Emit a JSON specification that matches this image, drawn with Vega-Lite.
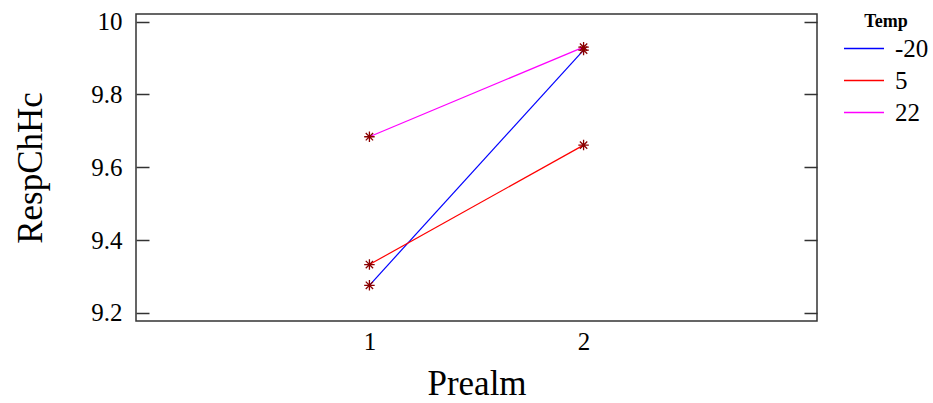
{
  "$schema": "https://vega.github.io/schema/vega-lite/v6.json",
  "width": 681,
  "height": 307,
  "autosize": {"type": "none"},
  "padding": {"left": 136, "top": 14, "right": 116, "bottom": 82},
  "background": "white",
  "config": {
    "font": "Liberation Serif",
    "view": {"stroke": "#333333", "strokeWidth": 1.5}
  },
  "data": {
    "values": [
      {"Prealm": 1, "RespChHc": 9.276, "Temp": "-20"},
      {"Prealm": 2, "RespChHc": 9.922, "Temp": "-20"},
      {"Prealm": 1, "RespChHc": 9.333, "Temp": "5"},
      {"Prealm": 2, "RespChHc": 9.661, "Temp": "5"},
      {"Prealm": 1, "RespChHc": 9.684, "Temp": "22"},
      {"Prealm": 2, "RespChHc": 9.93, "Temp": "22"}
    ]
  },
  "layer": [
    {
      "mark": {"type": "line", "strokeWidth": 1.2},
      "encoding": {
        "x": {
          "field": "Prealm", "type": "quantitative",
          "scale": {"domain": [-0.09, 3.09], "nice": false, "zero": false},
          "axis": {"values": [1, 2], "format": "d", "ticks": false, "domain": false, "grid": false,
                   "labelFont": "Liberation Serif", "titleFont": "Liberation Serif",
                   "labelFontSize": 25, "labelColor": "black", "labelPadding": 8,
                   "title": "Prealm", "titleFontSize": 35, "titleFontWeight": "normal",
                   "titleColor": "black", "titlePadding": 12}
        },
        "y": {
          "field": "RespChHc", "type": "quantitative",
          "scale": {"domain": [9.178, 10.021], "nice": false, "zero": false},
          "axis": {"values": [9.2, 9.4, 9.6, 9.8, 10], "format": "~g", "tickSize": -13,
                   "tickColor": "#333333", "tickWidth": 1.5, "domain": false, "grid": false,
                   "labelFont": "Liberation Serif", "titleFont": "Liberation Serif",
                   "labelFontSize": 25, "labelColor": "black", "labelPadding": 27,
                   "title": "RespChHc", "titleFontSize": 35, "titleFontWeight": "normal",
                   "titleColor": "black", "titlePadding": 42}
        },
        "color": {
          "field": "Temp", "type": "nominal",
          "scale": {"domain": ["-20", "5", "22"], "range": ["#0000FF", "#FF0000", "#FF00FF"]},
          "legend": {"orient": "none", "legendX": 707, "legendY": -1,
                     "symbolType": "stroke", "symbolSize": 1600, "symbolStrokeWidth": 1.5,
                     "clipHeight": 25, "rowPadding": 6, "labelOffset": 10,
                     "labelFont": "Liberation Serif", "titleFont": "Liberation Serif",
                     "labelFontSize": 25, "labelColor": "black",
                     "titleFontSize": 18, "titleFontWeight": "bold", "titleColor": "black",
                     "titleAnchor": "middle", "titlePadding": 5}
        }
      }
    },
    {
      "mark": {"type": "point", "shape": "M-1,0L1,0M0,-1L0,1M-0.7,-0.7L0.7,0.7M-0.7,0.7L0.7,-0.7",
               "filled": false, "stroke": "#8B0000", "strokeWidth": 1.3, "size": 110, "opacity": 1},
      "encoding": {
        "x": {"field": "Prealm", "type": "quantitative"},
        "y": {
          "field": "RespChHc", "type": "quantitative",
          "axis": {"orient": "right", "values": [9.2, 9.4, 9.6, 9.8, 10], "labels": false,
                   "tickSize": -13, "tickColor": "#333333", "tickWidth": 1.5,
                   "domain": false, "grid": false, "title": null}
        }
      }
    }
  ],
  "resolve": {"axis": {"y": "independent"}}
}
